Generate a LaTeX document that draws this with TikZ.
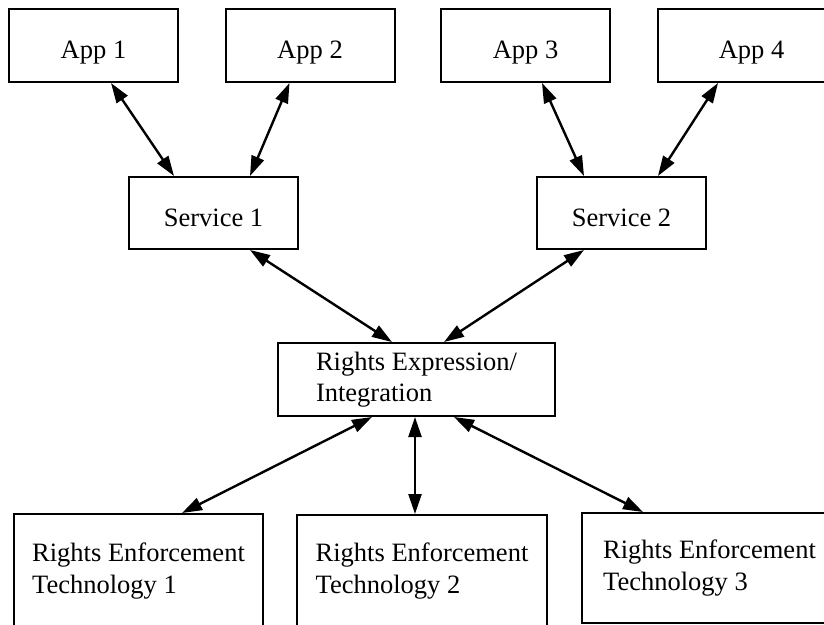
\documentclass[tikz,border=0pt]{standalone}
\usepackage{fontspec}
\setmainfont{Liberation Serif}
\usetikzlibrary{arrows.meta}
\begin{document}
\begin{tikzpicture}[x=1pt,y=-1pt,
  box/.style={draw, line width=2pt, inner sep=0pt, font=\fontsize{26.5}{31.5}\selectfont},
  appbox/.style={box, minimum width=169pt, minimum height=73pt, text height=26pt, text depth=0pt},
  srvbox/.style={box, minimum width=169pt, minimum height=72pt, text height=26pt, text depth=0pt},
  rebox/.style={box, align=left, minimum width=277pt, minimum height=73pt},
  retbox/.style={box, align=left},
  link/.style={line width=2.4pt, {Triangle[length=20pt,width=13pt]}-{Triangle[length=20pt,width=13pt]}}]
\useasboundingbox (0,0) rectangle (824,624);
\clip (0,0) rectangle (824,624);
\fill[white] (0,0) rectangle (824,624);

\node[appbox] (app1) at (93.5,45.5) {App 1};
\node[appbox] (app2) at (310,45.5) {App 2};
\node[appbox] (app3) at (525.5,45.5) {App 3};
\node[appbox, minimum width=187pt] (app4) at (751.5,45.5) {App 4};

\node[srvbox] (s1) at (213.5,213) {Service 1};
\node[srvbox] (s2) at (621.5,213) {Service 2};

\node[rebox] (re) at (416.5,379.5) {Rights Expression/\\Integration};

\node[retbox, minimum width=249pt, minimum height=114pt] (ret1) at (138.5,571) {Rights Enforcement\\Technology 1};
\node[retbox, minimum width=250pt, minimum height=112pt] (ret2) at (422,571) {Rights Enforcement\\Technology 2};
\node[retbox, minimum width=255pt, minimum height=110pt] (ret3) at (709.5,568) {Rights Enforcement\\Technology 3};

\draw[link] ([xshift=103pt]app1.south west) -- ([xshift=46pt]s1.north west);
\draw[link] ([xshift=65pt]app2.south west) -- ([xshift=122pt]s1.north west);
\draw[link] ([xshift=102pt]app3.south west) -- ([xshift=48pt]s2.north west);
\draw[link] ([xshift=61pt]app4.south west) -- ([xshift=122pt]s2.north west);
\draw[link] ([xshift=122pt]s1.south west) -- ([xshift=115pt]re.north west);
\draw[link] ([xshift=48pt]s2.south west) -- ([xshift=167pt]re.north west);
\draw[link] ([xshift=95pt]re.south west) -- ([xshift=169pt]ret1.north west);
\draw[link] ([xshift=138pt]re.south west) -- ([xshift=119pt]ret2.north west);
\draw[link] ([xshift=177pt]re.south west) -- ([xshift=62pt]ret3.north west);
\end{tikzpicture}
\end{document}
